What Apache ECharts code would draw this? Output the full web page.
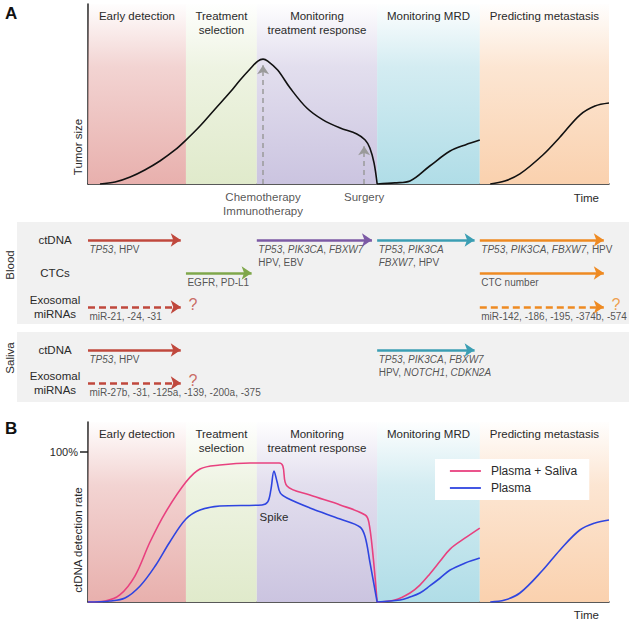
<!DOCTYPE html>
<html><head><meta charset="utf-8">
<script src="https://cdn.jsdelivr.net/npm/echarts@6/dist/echarts.min.js"></script>
<style>html,body{margin:0;padding:0;background:#fff}#c{width:632px;height:622px}</style>
</head><body><div id="c"></div>
<script>
// ---------- phases (time axis 0..100) ----------
const phaseNames = ['Early detection', 'Treatment\nselection', 'Monitoring\ntreatment response', 'Monitoring MRD', 'Predicting metastasis'];
const phaseStart = [0, 18.8, 32.4, 55.5, 75.2];
const phaseEnd = [18.8, 32.4, 55.5, 75.2, 100];
const phaseColors = [[232,176,173], [224,234,203], [203,196,224], [176,221,231], [250,209,174]];
const phaseArrowColors = ['#c0483d', '#7fa74b', '#7c5aa5', '#3b9eb3', '#ee8a22'];

// ---------- panel A: tumor size ----------
const tumorT = [2.3,5.2,8.1,10.9,13.8,16.7,18.8,21.5,24.4,27.3,29.2,31.1,32.6,33.6,34.5,36.4,38.8,42.0,45.1,48.4,51.6,53.2,54.1,54.9,55.5,
  55.5, 55.5,58.9,61.8,65.6,69.5,72.4,75.2,
  76, 77.2,80.0,82.9,87.3,90.6,94.4,97.3,100];
const tumorV = [0,1.1,3.9,7.8,12.8,18.9,24.4,32.2,41.7,51.1,57.8,63.9,68.3,69.4,68.3,63.3,53.3,42.2,35.6,31.1,27.8,24.4,20,11.7,0,
  null, 0,0.6,1.7,10,18.3,21.7,24.4,
  null, 0,1.7,5.6,16.1,26.1,38.3,43.3,45];
const eventNames = ['Chemotherapy\nImmunotherapy', 'Surgery'];
const eventT = [33.6, 53.0];
const eventArrowTop = [66, 21];

// ---------- panel A: markers by phase ----------
const rowNames = ['ctDNA', 'CTCs', 'Exosomal\nmiRNAs', 'ctDNA', 'Exosomal\nmiRNAs'];
const rowPos = [18, 51, 85, 128, 161];
const arrowRow   = [0, 0, 0, 0, 1, 1, 2, 2, 3, 3, 4];
const arrowFrom  = [0, 32.4, 55.5, 75.2, 18.8, 75.2, 0, 75.2, 0, 55.5, 0];
const arrowTo    = [18.8, 55.5, 75.2, 100, 32.4, 100, 18.8, 100, 18.8, 75.2, 18.8];
const arrowPhase = [0, 2, 3, 4, 1, 4, 0, 4, 0, 3, 0];
const arrowUncertain = [false, false, false, false, false, false, true, true, false, false, true];
const arrowText = [
  '{i|TP53}, HPV',
  '{i|TP53}, {i|PIK3CA}, {i|FBXW7}\nHPV, EBV',
  '{i|TP53}, {i|PIK3CA}\n{i|FBXW7}, HPV',
  '{i|TP53}, {i|PIK3CA}, {i|FBXW7}, HPV',
  'EGFR, PD-L1',
  'CTC number',
  'miR-21, -24, -31',
  'miR-142, -186, -195, -374b, -574',
  '{i|TP53}, HPV',
  '{i|TP53}, {i|PIK3CA}, {i|FBXW7}\nHPV, {i|NOTCH1}, {i|CDKN2A}',
  'miR-27b, -31, -125a, -139, -200a, -375'
];

// ---------- panel B: ctDNA detection rate ----------
const bothT = [0,3.3,6.1,9.0,11.9,14.8,18.8,21.5,25.3,31.1,36.7,37.4,38.2,42.6,48.4,53.2,53.9,54.7,55.5,
  55.5, 55.5,58.9,61.8,63.7,65.6,67.6,69.5,72.4,75.2];
const bothV = [0,0.7,4.7,17.3,40,59.3,80,88.7,91.3,92.7,92.7,90.7,77.3,71.3,64.7,58,53.3,31.3,0,
  null, 0,1.3,6,11.3,18.7,27.3,35.3,42.7,49.3];
const plasmaT = [0,4.2,7.1,10,12.9,15.7,18.8,21.5,25.3,33.4,34.5,35.1,35.7,36.3,36.9,38.2,42.6,48.4,52.2,53.2,54.1,55.5,
  55.5, 55.5,59.9,61.8,63.7,65.6,67.6,69.5,72.4,75.2,
  76, 77.2,80,82.9,87.3,90.6,94.4,97.3,100];
const plasmaV = [0,0.7,2.7,10.7,24,40,55.3,61.3,64,64.7,66.7,74.7,87.3,80,72.7,69.3,62.7,55.3,50,43.3,26.7,0,
  null, 0,1.3,3.3,6,10.7,16,21.3,26,29.3,
  null, 0,1.3,6,21.3,34.7,48,52.7,54.7];
const spikePoint = [35.7, 87.3];

// ---------- helpers ----------
const FONT = '"Liberation Sans", Arial, Helvetica, sans-serif';
const TXT = '#2a2a2a';
function rgba(c, a) { return 'rgba(' + c[0] + ',' + c[1] + ',' + c[2] + ',' + a + ')'; }
function bandGradient(c) {
  return { type: 'linear', x: 0, y: 0, x2: 0, y2: 1, colorStops: [
    { offset: 0, color: rgba(c, 0.02) }, { offset: 0.35, color: rgba(c, 0.55) }, { offset: 1, color: rgba(c, 1) } ] };
}
function bandData() {
  return phaseNames.map((n, i) => [
    { name: n, xAxis: phaseStart[i], itemStyle: { color: bandGradient(phaseColors[i]) } },
    { xAxis: phaseEnd[i] }
  ]);
}
function pairs(ts, vs) { return ts.map((t, i) => [t, vs[i] === null ? '-' : vs[i]]); }
function bandSeries(idx) {
  return {
    type: 'line', xAxisIndex: idx, yAxisIndex: idx, data: [], silent: true, z: 0,
    markArea: { silent: true, data: bandData(),
      label: { show: true, position: 'insideTop', distance: 5, color: TXT, fontSize: 11.5, lineHeight: 14, fontFamily: FONT } }
  };
}
const axisLine = { show: true, lineStyle: { color: '#222', width: 1.5 } };

const arrowLines = arrowFrom.map((f, i) => ({
  coords: [[f, rowPos[arrowRow[i]]], [arrowTo[i] - 1.0, rowPos[arrowRow[i]]]],
  lineStyle: { color: phaseArrowColors[arrowPhase[i]], type: arrowUncertain[i] ? [7, 4] : 'solid' },
  symbolSize: 10
}));
const arrowLabels = arrowFrom.map((f, i) => ({ value: [f, rowPos[arrowRow[i]]], label: { formatter: arrowText[i] } }));
const qMarks = [];
arrowFrom.forEach((f, i) => { if (arrowUncertain[i]) qMarks.push({ value: [arrowTo[i], rowPos[arrowRow[i]]], label: { color: phaseArrowColors[arrowPhase[i]] } }); });

const graphicEls = [
  { type: 'rect', z: -10, shape: { x: 17, y: 222, width: 612, height: 102 }, style: { fill: '#f1f1f1' } },
  { type: 'rect', z: -10, shape: { x: 17, y: 332, width: 612, height: 70 }, style: { fill: '#f1f1f1' } },
  { type: 'text', x: 5, y: 13, style: { text: 'A', font: 'bold 17px ' + FONT, fill: '#111', textVerticalAlign: 'middle' } },
  { type: 'text', x: 5, y: 428, style: { text: 'B', font: 'bold 17px ' + FONT, fill: '#111', textVerticalAlign: 'middle' } },
  { type: 'text', x: 78, y: 147, rotation: Math.PI / 2, style: { text: 'Tumor size', font: '11.5px ' + FONT, fill: TXT, textAlign: 'center', textVerticalAlign: 'middle' } },
  { type: 'text', x: 78, y: 540, rotation: Math.PI / 2, style: { text: 'ctDNA detection rate', font: '11.5px ' + FONT, fill: TXT, textAlign: 'center', textVerticalAlign: 'middle' } },
  { type: 'text', x: 10, y: 265, rotation: Math.PI / 2, style: { text: 'Blood', font: '11.5px ' + FONT, fill: TXT, textAlign: 'center', textVerticalAlign: 'middle' } },
  { type: 'text', x: 10, y: 358, rotation: Math.PI / 2, style: { text: 'Saliva', font: '11.5px ' + FONT, fill: TXT, textAlign: 'center', textVerticalAlign: 'middle' } }
];
rowNames.forEach((n, i) => {
  const multi = n.indexOf('\n') >= 0;
  graphicEls.push({ type: 'text', x: 55, y: 222 + rowPos[i] - (multi ? 0 : 0),
    style: { text: n, font: '11.5px ' + FONT, fill: TXT, textAlign: 'center', textVerticalAlign: 'middle', lineHeight: 13.5 } });
});

const chart = echarts.init(document.getElementById('c'), null, { renderer: 'svg', width: 632, height: 622 });
chart.setOption({
  animation: false,
  backgroundColor: '#fff',
  textStyle: { fontFamily: FONT },
  grid: [
    { left: 88, top: 4, width: 521, height: 180 },
    { left: 88, top: 222, width: 521, height: 180 },
    { left: 88, top: 422, width: 521, height: 180 }
  ],
  xAxis: [
    { gridIndex: 0, type: 'value', min: 0, max: 100, axisLine: axisLine, axisTick: { show: false }, axisLabel: { show: false }, splitLine: { show: false },
      name: 'Time', nameLocation: 'end', nameGap: -10, nameTextStyle: { align: 'right', verticalAlign: 'top', padding: [8, 0, 0, 0], fontSize: 11.5, color: TXT } },
    { gridIndex: 1, type: 'value', min: 0, max: 100, show: false },
    { gridIndex: 2, type: 'value', min: 0, max: 100, axisLine: axisLine, axisTick: { show: false }, axisLabel: { show: false }, splitLine: { show: false },
      name: 'Time', nameLocation: 'end', nameGap: -10, nameTextStyle: { align: 'right', verticalAlign: 'top', padding: [7, 0, 0, 0], fontSize: 11.5, color: TXT } }
  ],
  yAxis: [
    { gridIndex: 0, type: 'value', min: 0, max: 100, axisLine: axisLine, axisTick: { show: false }, axisLabel: { show: false }, splitLine: { show: false } },
    { gridIndex: 1, type: 'value', min: 0, max: 180, inverse: true, show: false },
    { gridIndex: 2, type: 'value', min: 0, max: 120, axisLine: axisLine, splitLine: { show: false },
      axisTick: { show: true, length: 8, customValues: [100], lineStyle: { color: '#222', width: 1.5 } },
      axisLabel: { show: true, customValues: [100], formatter: '{value}%', margin: 10, fontSize: 11, color: TXT } }
  ],
  legend: {
    data: ['Plasma + Saliva', 'Plasma'], orient: 'vertical', left: 435, top: 459,
    padding: [6, 12, 6, 14], backgroundColor: '#fff', itemWidth: 31, itemHeight: 12, itemGap: 5,
    itemStyle: { opacity: 0 },
    lineStyle: { width: 1.8 },
    textStyle: { fontSize: 12, color: TXT, fontFamily: FONT, padding: [0, 0, 0, 5] }
  },
  graphic: { elements: graphicEls },
  series: [
    bandSeries(0),
    bandSeries(2),
    { name: 'Tumor size', type: 'line', xAxisIndex: 0, yAxisIndex: 0, data: pairs(tumorT, tumorV), smooth: 0.35,
      symbol: 'none', lineStyle: { color: '#111', width: 1.6 }, z: 5 },
    { name: 'events', type: 'lines', coordinateSystem: 'cartesian2d', xAxisIndex: 0, yAxisIndex: 0, z: 4,
      symbol: ['none', 'arrow'], symbolSize: 9,
      lineStyle: { color: '#9a9a9a', width: 1.5, type: [5, 4], opacity: 1 },
      data: eventT.map((t, i) => ({ coords: [[t, 0], [t, eventArrowTop[i]]] })) },
    { name: 'eventLabels', type: 'scatter', xAxisIndex: 0, yAxisIndex: 0, symbolSize: 1, itemStyle: { color: 'transparent' }, silent: true,
      data: eventT.map((t, i) => ({ value: [t, 0], label: { formatter: eventNames[i] } })),
      label: { show: true, position: 'bottom', distance: 6, color: TXT, fontSize: 11.5, lineHeight: 13.5, align: 'center' } },
    { name: 'arrows', type: 'lines', coordinateSystem: 'cartesian2d', xAxisIndex: 1, yAxisIndex: 1, z: 4,
      symbol: ['none', 'arrow'], symbolSize: 10,
      lineStyle: { width: 2.6, opacity: 1 }, data: arrowLines },
    { name: 'arrowLabels', type: 'scatter', xAxisIndex: 1, yAxisIndex: 1, symbolSize: 1, itemStyle: { color: 'transparent' }, silent: true,
      data: arrowLabels,
      label: { show: true, position: [2, 3], align: 'left', verticalAlign: 'top', color: TXT, fontSize: 10, lineHeight: 13.5,
        rich: { i: { fontStyle: 'italic', fontSize: 10, color: TXT, lineHeight: 13.5 } } } },
    { name: 'unknown', type: 'scatter', xAxisIndex: 1, yAxisIndex: 1, symbolSize: 1, itemStyle: { color: 'transparent' }, silent: true,
      data: qMarks, label: { show: true, formatter: '?', position: 'right', distance: 2, offset: [0, -3], fontSize: 16 } },
    { name: 'Plasma + Saliva', type: 'line', xAxisIndex: 2, yAxisIndex: 2, data: pairs(bothT, bothV), smooth: 0.35,
      symbol: 'none', color: '#e8417f', lineStyle: { color: '#e8417f', width: 1.6 }, z: 5 },
    { name: 'Plasma', type: 'line', xAxisIndex: 2, yAxisIndex: 2, data: pairs(plasmaT, plasmaV), smooth: 0.35,
      symbol: 'none', color: '#2f45e0', lineStyle: { color: '#2f45e0', width: 1.6 }, z: 6,
      markPoint: { silent: true, symbol: 'circle', symbolSize: 0,
        data: [{ coord: spikePoint, value: 'Spike' }],
        label: { show: true, formatter: 'Spike', position: 'bottom', distance: 40, color: TXT, fontSize: 11.5 } } }
  ]
});
</script>
</body></html>
